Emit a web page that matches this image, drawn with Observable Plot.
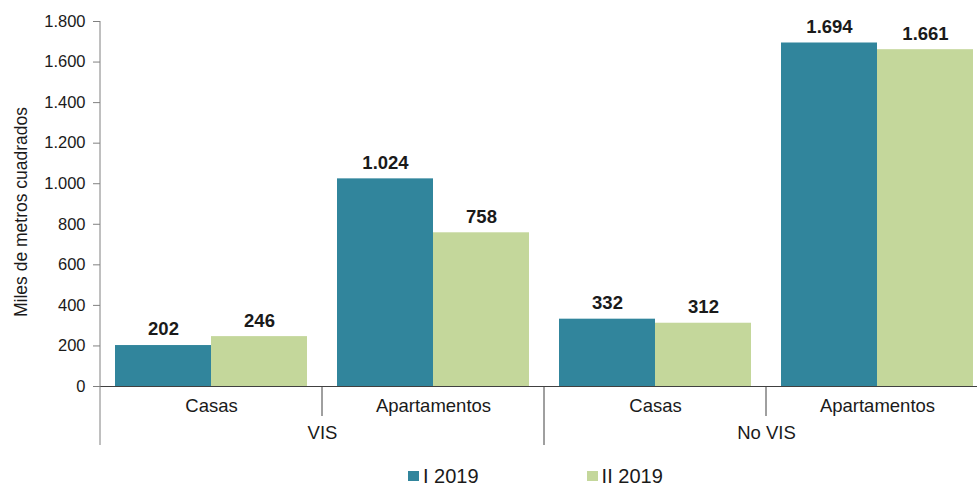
<!DOCTYPE html>
<html><head><meta charset="utf-8">
<script src="https://cdn.jsdelivr.net/npm/d3@7"></script>
<script src="https://cdn.jsdelivr.net/npm/@observablehq/plot@0.6"></script>
<style>
html,body{margin:0;padding:0;background:#fff;overflow:hidden;}
#chart{position:relative;width:977px;height:487px;overflow:hidden;font-family:"Liberation Sans",Arial,sans-serif;}
#chart svg{display:block;}
.legend{display:flex;align-items:center;gap:108px;padding-left:408px;height:20px;line-height:20px;margin-top:11px;}
.legend .item{display:flex;align-items:center;font-size:20px;color:#1a1a1a;}
.legend .sw{width:11px;height:10px;margin-right:4px;display:inline-block;}
</style></head><body><div id="chart"></div>
<script>
const groups = ["VIS", "VIS", "No VIS", "No VIS"];
const categories = ["Casas", "Apartamentos", "Casas", "Apartamentos"];
const seriesNames = ["I 2019", "II 2019"];
const valuesI = [202, 1024, 332, 1694];
const valuesII = [246, 758, 312, 1661];
const yTicks = [0, 200, 400, 600, 800, 1000, 1200, 1400, 1600, 1800];
const colors = ["#31859C", "#C4D79B"];
const yTitle = "Miles de metros cuadrados";

const keys = groups.map((g, i) => g + "|" + categories[i]);
const data = [];
keys.forEach((k, i) => {
  data.push({key: k, series: seriesNames[0], value: valuesI[i]});
  data.push({key: k, series: seriesNames[1], value: valuesII[i]});
});
const groupLabels = [];
keys.forEach((k, i) => {
  if (i > 0 && groups[i] === groups[i - 1]) groupLabels.push({key: k, label: groups[i]});
});

const locale = d3.formatLocale({decimal: ",", thousands: ".", grouping: [3], currency: ["$", ""]});
const fmt = locale.format(",d");

const plot = Plot.plot({
  width: 977, height: 455,
  marginLeft: 98, marginRight: -12, marginTop: 21, marginBottom: 69,
  style: {fontFamily: "'Liberation Sans', Arial, sans-serif", fontSize: "17px", color: "#1a1a1a", background: "#fff", overflow: "hidden"},
  fx: {domain: keys, padding: 0, label: null, axis: null},
  x: {domain: seriesNames, paddingInner: 0, paddingOuter: 0.155, axis: null},
  y: {domain: [0, 1800], axis: null},
  color: {domain: seriesNames, range: colors},
  marks: [
    Plot.axisY({ticks: yTicks, tickFormat: fmt, tickSize: 7, tickPadding: 8, label: null, fontSize: 16.5, stroke: "#808080"}),
    Plot.text([yTitle], {facetAnchor: "left", text: d => d, frameAnchor: "left", textAnchor: "middle", rotate: -90, dx: -79, dy: 8, fontSize: 17.5, fill: "#1a1a1a"}),
    Plot.barY(data, {fx: "key", x: "series", y: "value", fill: "series"}),
    Plot.text(data, {fx: "key", x: "series", y: "value", text: d => fmt(d.value), dy: -16, fontWeight: "bold", fontSize: 18.5, fill: "#1a1a1a"}),
    Plot.ruleY([0], {stroke: "#404040"}),
    Plot.axisFx({anchor: "bottom", tickSize: 0, tickPadding: 12, tickFormat: k => k.split("|")[1], fontSize: 18.5, label: null}),
    Plot.text(groupLabels, {fx: "key", text: "label", frameAnchor: "bottom-left", textAnchor: "middle", dy: 52, fontSize: 18.5, fill: "#1a1a1a"})
  ]
});

// separators between categories / groups and the y axis line
const fxS = plot.scale("fx"), yS = plot.scale("y");
const svg = d3.select(plot);
const y0 = yS.apply(0);
const lines = svg.append("g");
keys.forEach((k, i) => {
  const xx = fxS.apply(k);
  const long = i === 0 || groups[i] !== groups[i - 1];
  lines.append("line").attr("x1", xx).attr("x2", xx)
    .attr("y1", i === 0 ? yS.apply(1800) : y0)
    .attr("y2", y0 + (long ? 59 : 30))
    .attr("stroke", i === 0 ? "#808080" : "#404040").attr("stroke-width", 1);
});

const chart = document.getElementById("chart");
chart.appendChild(plot);
const legend = document.createElement("div");
legend.className = "legend";
seriesNames.forEach((s, i) => {
  const it = document.createElement("span");
  it.className = "item";
  const sw = document.createElement("span");
  sw.className = "sw";
  sw.style.background = colors[i];
  it.appendChild(sw);
  it.appendChild(document.createTextNode(s));
  legend.appendChild(it);
});
chart.appendChild(legend);
</script></body></html>
